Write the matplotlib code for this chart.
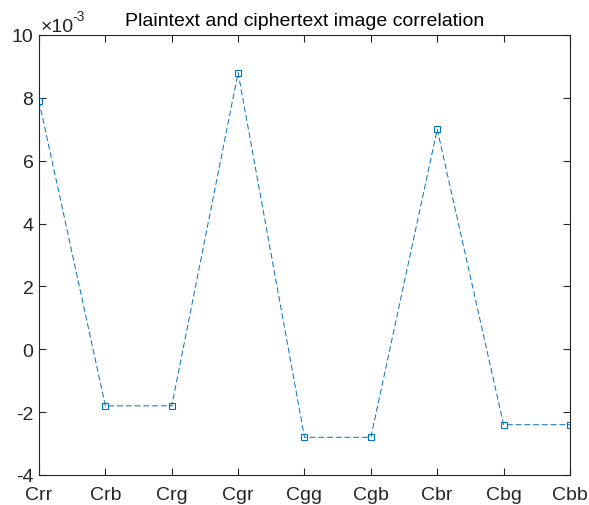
import numpy as np
import matplotlib.pyplot as plt

plt.rcParams['font.family'] = ['Liberation Sans', 'DejaVu Sans']
plt.rcParams['axes.unicode_minus'] = False

# Correlation coefficients between colour channels (scaled by 1e-3)
labels = ["Crr", "Crb", "Crg", "Cgr", "Cgg", "Cgb", "Cbr", "Cbg", "Cbb"]
corr = [7.9, -1.8, -1.8, 8.8, -2.8, -2.8, 7.0, -2.4, -2.4]

LINE_COLOR = "#0072BD"
AX_COLOR = "#262626"

fig = plt.figure(figsize=(5.89, 5.06), dpi=100)
ax = fig.add_axes([0.0662, 0.0593, 0.9015, 0.8696])

x = np.arange(1, len(labels) + 1)
ax.plot(x, corr, linestyle=(0, (6, 3)), linewidth=0.7, color=LINE_COLOR,
        marker="s", markersize=4, markerfacecolor="none",
        markeredgewidth=0.8)

ax.set_xlim(1, len(labels))
ax.set_ylim(-4, 10)
ax.set_xticks(x)
ax.set_xticklabels(labels)
ax.set_yticks(np.arange(-4, 11, 2))
ax.tick_params(direction="in", length=5, width=0.8, top=True, right=True,
               labelsize=14, colors=AX_COLOR)
ax.tick_params(axis="x", pad=8)
ax.tick_params(axis="y", pad=4)
for s in ax.spines.values():
    s.set_linewidth(0.8)
    s.set_color(AX_COLOR)

ax.set_title("Plaintext and ciphertext image correlation", fontsize=14,
             color="black", pad=7)

# exponent label above the y axis
ax.annotate("\u00d710", xy=(0, 1), xycoords="axes fraction",
            xytext=(1, 3), textcoords="offset points",
            fontsize=14, color=AX_COLOR, ha="left", va="baseline")
ax.annotate("-3", xy=(0, 1), xycoords="axes fraction",
            xytext=(24, 11), textcoords="offset points",
            fontsize=10, color=AX_COLOR, ha="left", va="baseline")

fig.savefig("out.png", dpi=100)
